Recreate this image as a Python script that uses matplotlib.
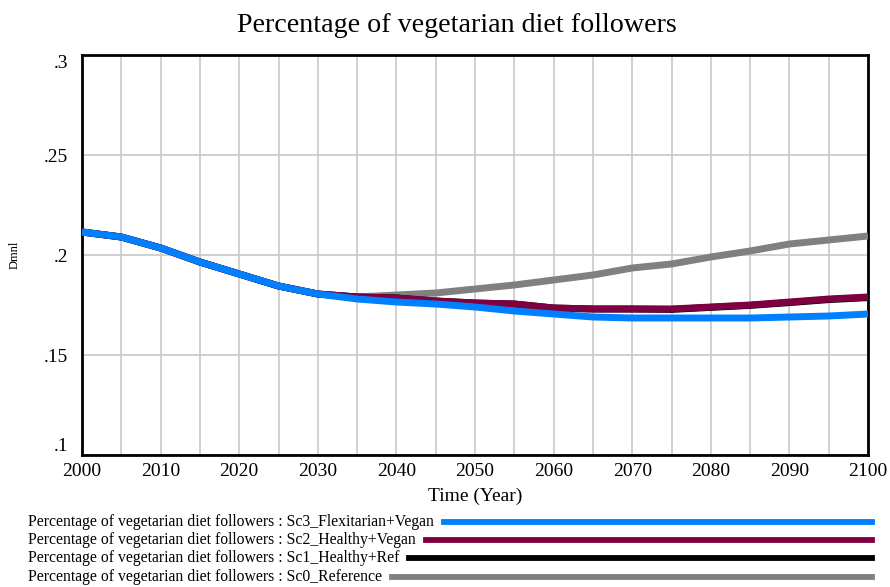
import numpy as np
import matplotlib
matplotlib.use("Agg")
import matplotlib.pyplot as plt
from matplotlib.lines import Line2D
from matplotlib.ticker import FixedLocator, MultipleLocator

plt.rcParams['font.family'] = ['Liberation Serif', 'DejaVu Serif']

# simulation output, sampled every 5 years
years = np.arange(2000, 2101, 5)
sc3_flex_vegan = [0.2115, 0.209, 0.2035, 0.1965, 0.1905, 0.1845, 0.1805, 0.178, 0.1765,
                  0.1755, 0.174, 0.172, 0.1705, 0.169, 0.1685, 0.1685, 0.1685, 0.1685,
                  0.169, 0.1695, 0.1705]
sc2_healthy_vegan = [0.2115, 0.209, 0.2035, 0.1965, 0.1905, 0.1845, 0.1805, 0.179, 0.1785,
                     0.177, 0.176, 0.1755, 0.1735, 0.173, 0.173, 0.173, 0.174, 0.175,
                     0.1765, 0.178, 0.179]
sc1_healthy_ref = [0.2115, 0.209, 0.2035, 0.1965, 0.1905, 0.1845, 0.1805, 0.179, 0.1785,
                   0.177, 0.176, 0.1755, 0.1735, 0.173, 0.173, 0.1728, 0.1738, 0.1748,
                   0.1762, 0.1777, 0.1787]
sc0_reference = [0.2115, 0.209, 0.2035, 0.1965, 0.1905, 0.1845, 0.1805, 0.179, 0.18,
                 0.181, 0.183, 0.185, 0.1875, 0.19, 0.1935, 0.1955, 0.199, 0.202,
                 0.2055, 0.2075, 0.2095]

var_name = "Percentage of vegetarian diet followers"
scenarios = ["Sc3_Flexitarian+Vegan", "Sc2_Healthy+Vegan", "Sc1_Healthy+Ref", "Sc0_Reference"]
series = [sc3_flex_vegan, sc2_healthy_vegan, sc1_healthy_ref, sc0_reference]
colors = ["#0080ff", "#7f0040", "#000000", "#808080"]

y_ticks = [0.1, 0.15, 0.2, 0.25, 0.3]
y_ticklabels = [".1", ".15", ".2", ".25", ".3"]
x_ticks = list(range(2000, 2101, 10))

W, H = 890, 587
fig = plt.figure(figsize=(W / 100, H / 100), dpi=100)
ax = fig.add_axes([82 / W, 1 - 455 / H, (868 - 82) / W, (455 - 55) / H])

# draw reference first so the first scenario ends up on top
for vals, col, z in zip(series[::-1], colors[::-1], range(4)):
    ax.plot(years, vals, color=col, lw=5, solid_capstyle='butt', zorder=3 + z)

ax.set_xlim(2000, 2100)
ax.set_ylim(0.1, 0.3)
ax.xaxis.set_major_locator(FixedLocator(x_ticks))
ax.xaxis.set_minor_locator(MultipleLocator(5))
ax.set_yticks(y_ticks)
ax.set_yticklabels(y_ticklabels)
ax.set_xticklabels([str(t) for t in x_ticks])
ax.grid(True, which='both', color='#c8c8c8', lw=1.2, zorder=1)
ax.tick_params(which='both', length=0, labelsize=14, pad=6)
ax.tick_params(axis='y', pad=10)
for s in ax.spines.values():
    s.set_linewidth(2)

# keep the end labels inside the frame
ylabels = ax.get_yticklabels()
ylabels[0].set_verticalalignment('bottom')
ylabels[-1].set_verticalalignment('top')

ax.set_xlabel("Time (Year)", fontsize=14, labelpad=5)
fig.text(15 / W, 1 - 255 / H, "Dmnl", rotation=90, ha='center', va='center', fontsize=9)

fig.text(457 / W, 1 - 25 / H, var_name, ha='center', va='center', fontsize=20.2)

# legend rows under the plot: label then a bar running to the right edge
renderer = fig.canvas.get_renderer()
row_y = [522, 540, 558, 577]
for name, col, ry in zip(scenarios, colors, row_y):
    t = fig.text(28 / W, 1 - ry / H, f"{var_name} : {name}", ha='left', va='center',
                 fontsize=11.3)
    bb = t.get_window_extent(renderer)
    x0 = bb.x1 + 10
    fig.add_artist(Line2D([x0 / W, 872 / W], [1 - ry / H, 1 - ry / H],
                          transform=fig.transFigure, color=col, lw=4.2))

fig.savefig("out.png", dpi=100)
